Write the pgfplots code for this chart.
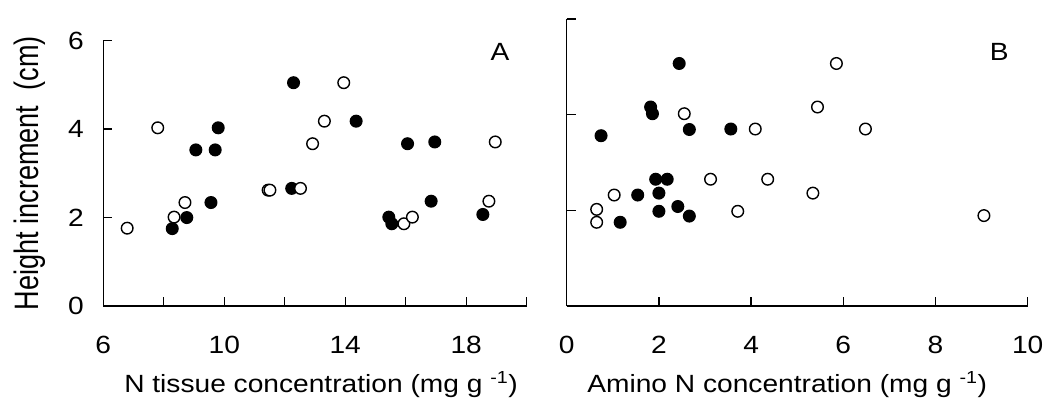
\documentclass[border=0pt]{standalone}
\usepackage{fontspec}
\setmainfont{Liberation Sans}
\newfontfamily\widefont{Liberation Sans}[FakeStretch=1.13]
\newfontfamily\narrowfont{Liberation Sans}[FakeStretch=0.8]
\usepackage{pgfplots}
\usepackage{pgfplotstable}
\pgfplotsset{compat=1.18}

% Panel A: N tissue concentration vs height increment
\pgfplotstableread{
x y
8.28 1.75
8.76 2.00
9.06 3.53
9.70 3.53
9.80 4.03
9.56 2.34
12.23 2.66
12.29 5.05
14.36 4.18
15.44 2.01
15.54 1.86
16.06 3.67
16.96 3.71
16.84 2.37
18.55 2.07
}\Afilled
\pgfplotstableread{
x y
6.79 1.76
7.80 4.03
8.34 2.01
8.70 2.34
11.45 2.62
11.51 2.62
12.52 2.66
12.92 3.67
13.31 4.18
13.95 5.05
15.94 1.86
16.22 2.01
18.75 2.37
18.96 3.71
}\Aopen
% Panel B: amino N concentration vs height increment
\pgfplotstableread{
x y
0.745 3.56
1.16 1.75
1.54 2.32
1.82 4.16
1.86 4.02
1.93 2.65
2.00 2.36
2.00 1.98
2.18 2.65
2.41 2.08
2.44 5.07
2.66 3.69
2.66 1.88
3.56 3.70
}\Bfilled
\pgfplotstableread{
x y
0.65 2.02
0.65 1.75
1.03 2.32
2.55 4.02
3.12 2.65
3.71 1.98
4.09 3.70
4.36 2.65
5.34 2.36
5.44 4.16
5.85 5.07
6.48 3.70
9.05 1.89
}\Bopen

\pgfplotsset{
  panel/.style={
    scale only axis,
    axis x line=bottom, axis y line=left,
    axis line style={-, line width=1.5bp, black},
    tick align=inside,
    major tick length=9bp,
    tick style={black, line width=1.3bp},
    ymin=0, ymax=6, ytick={0,2,4,6},
    /pgf/number format/assume math mode=true,
    tick label style={font=\widefont\fontsize{25}{29}\selectfont},
    xticklabel shift=27bp,
    yticklabel shift=16bp,
    clip=false,
  },
  filledpt/.style={only marks, mark=*, mark size=5.8bp,
    mark options={draw=black, fill=black, line width=1.4bp}},
  openpt/.style={only marks, mark=*, mark size=5.8bp,
    mark options={draw=black, fill=white, line width=1.4bp}},
}

\begin{document}
\begin{tikzpicture}[x=1bp,y=1bp]
\useasboundingbox (0,0) rectangle (1046,403);
\begin{axis}[panel,
  at={(103.3bp,97bp)}, anchor=south west,
  width=423.4bp, height=265.3bp,
  xmin=6, xmax=20, xtick={6,8,...,20},
  xticklabels={6,,10,,14,,18,},
]
\addplot[filledpt] table {\Afilled};
\addplot[openpt] table {\Aopen};
\node[font=\widefont\fontsize{25}{29}\selectfont] at (rel axis cs:0.937,0.958) {A};
\node[font=\widefont\fontsize{25}{29}\selectfont, anchor=base, xshift=6bp, yshift=-86bp]
  at (rel axis cs:0.5,0) {N tissue concentration (mg g \textsuperscript{-1})};
\node[font=\narrowfont\fontsize{34}{38}\selectfont, rotate=90, anchor=base]
  at (rel axis cs:-0.152,0.5) {Height increment~~(cm)};
\end{axis}
\begin{axis}[panel,
  at={(566.7bp,97bp)}, anchor=south west,
  width=461bp, height=287bp,
  xmin=0, xmax=10, xtick={0,2,...,10},
  yticklabels={},
]
\addplot[filledpt] table {\Bfilled};
\addplot[openpt] table {\Bopen};
\node[font=\widefont\fontsize{25}{29}\selectfont] at (rel axis cs:0.938,0.885) {B};
\node[font=\widefont\fontsize{25}{29}\selectfont, anchor=base, xshift=-10bp, yshift=-86bp]
  at (rel axis cs:0.5,0) {Amino N concentration (mg g \textsuperscript{-1})};
\end{axis}
\end{tikzpicture}
\end{document}
